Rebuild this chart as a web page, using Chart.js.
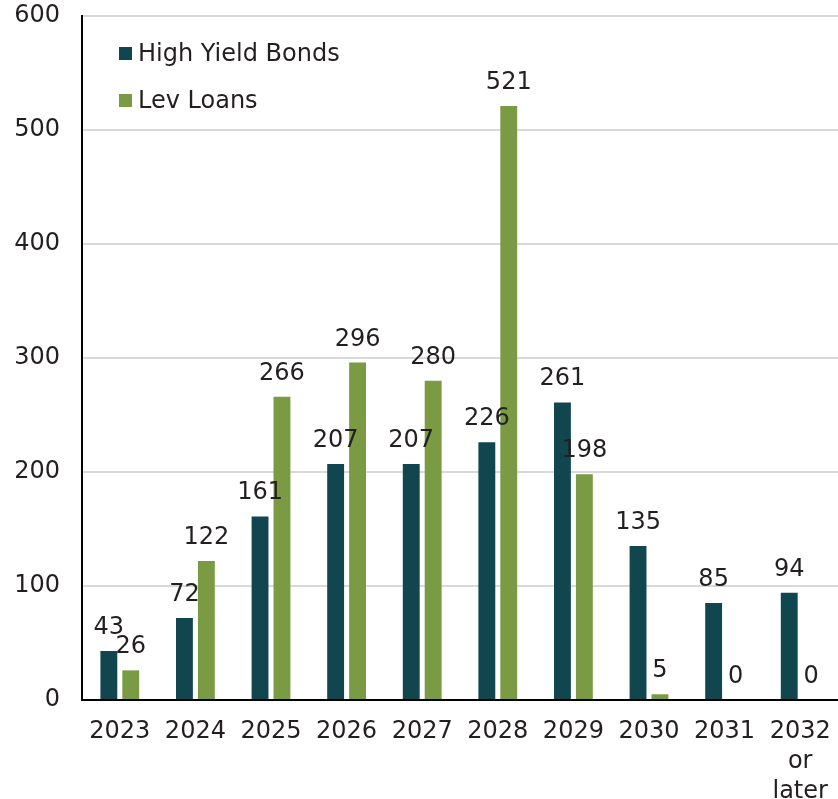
<!DOCTYPE html>
<html>
<head>
<meta charset="utf-8">
<script src="https://cdn.jsdelivr.net/npm/chart.js@4"></script>
<style>
  html, body { margin: 0; padding: 0; background: #fff; }
  #wrap { width: 838px; height: 799px; }
</style>
</head>
<body>
<div id="wrap"><canvas id="maturities" width="838" height="799"></canvas></div>
<script>
const years = ['2023', '2024', '2025', '2026', '2027', '2028', '2029', '2030', '2031', ['2032', 'or', 'later']];
const highYieldBonds = [43, 72, 161, 207, 207, 226, 261, 135, 85, 94];
const levLoans = [26, 122, 266, 296, 280, 521, 198, 5, 0, 0];
const yTicks = [0, 100, 200, 300, 400, 500, 600];

const FONT = 'DejaVu Sans';
const TEXT = '#231f20';
const SIZE = 24;

// value labels above each bar
const barValues = {
  id: 'barValues',
  afterDatasetsDraw(chart) {
    const ctx = chart.ctx;
    ctx.save();
    ctx.font = SIZE + 'px "' + FONT + '"';
    ctx.fillStyle = TEXT;
    ctx.textAlign = 'center';
    ctx.textBaseline = 'alphabetic';
    chart.data.datasets.forEach((ds, i) => {
      chart.getDatasetMeta(i).data.forEach((bar, j) => {
        ctx.fillText(String(ds.data[j]), bar.x, bar.y - 17);
      });
    });
    ctx.restore();
  }
};

// legend sits inside the plot, top left
const insideLegend = {
  id: 'insideLegend',
  afterDraw(chart) {
    const ctx = chart.ctx;
    ctx.save();
    ctx.font = SIZE + 'px "' + FONT + '"';
    ctx.textBaseline = 'middle';
    chart.data.datasets.forEach((ds, i) => {
      const y = 54 + i * 47;
      ctx.fillStyle = ds.backgroundColor;
      ctx.fillRect(119, y - 7, 13, 13);
      ctx.fillStyle = TEXT;
      ctx.fillText(ds.label, 138, y + 1);
    });
    ctx.restore();
  }
};

new Chart(document.getElementById('maturities').getContext('2d'), {
  type: 'bar',
  data: {
    labels: years,
    datasets: [{
      label: 'High Yield Bonds',
      data: highYieldBonds,
      backgroundColor: '#12464f'
    }, {
      label: 'Lev Loans',
      data: levLoans,
      backgroundColor: '#7a9a43'
    }]
  },
  options: {
    responsive: false,
    animation: false,
    layout: { padding: { top: 16, right: 0, left: 0, bottom: 0 } },
    datasets: {
      bar: { categoryPercentage: 0.58, barPercentage: 0.77 }
    },
    plugins: {
      legend: { display: false },
      tooltip: { enabled: false }
    },
    scales: {
      x: {
        grid: { display: false, drawTicks: false },
        border: { color: '#000', width: 2 },
        ticks: {
          color: TEXT,
          padding: 17,
          maxRotation: 0,
          font: { family: FONT, size: SIZE, lineHeight: 1.25 }
        },
        afterFit(scale) {
          scale.height = 99;
          scale.paddingLeft = 0;
          scale.paddingRight = 0;
        }
      },
      y: {
        min: 0,
        max: 600,
        afterBuildTicks(scale) { scale.ticks = yTicks.map(v => ({ value: v })); },
        grid: { color: '#d9d9d9', lineWidth: 2, drawTicks: false },
        border: { color: '#000', width: 2 },
        ticks: {
          color: TEXT,
          padding: 22,
          font: { family: FONT, size: SIZE }
        },
        afterFit(scale) {
          scale.width = 82;
          scale.paddingTop = 0;
          scale.paddingBottom = 0;
        }
      }
    }
  },
  plugins: [barValues, insideLegend]
});
</script>
</body>
</html>
